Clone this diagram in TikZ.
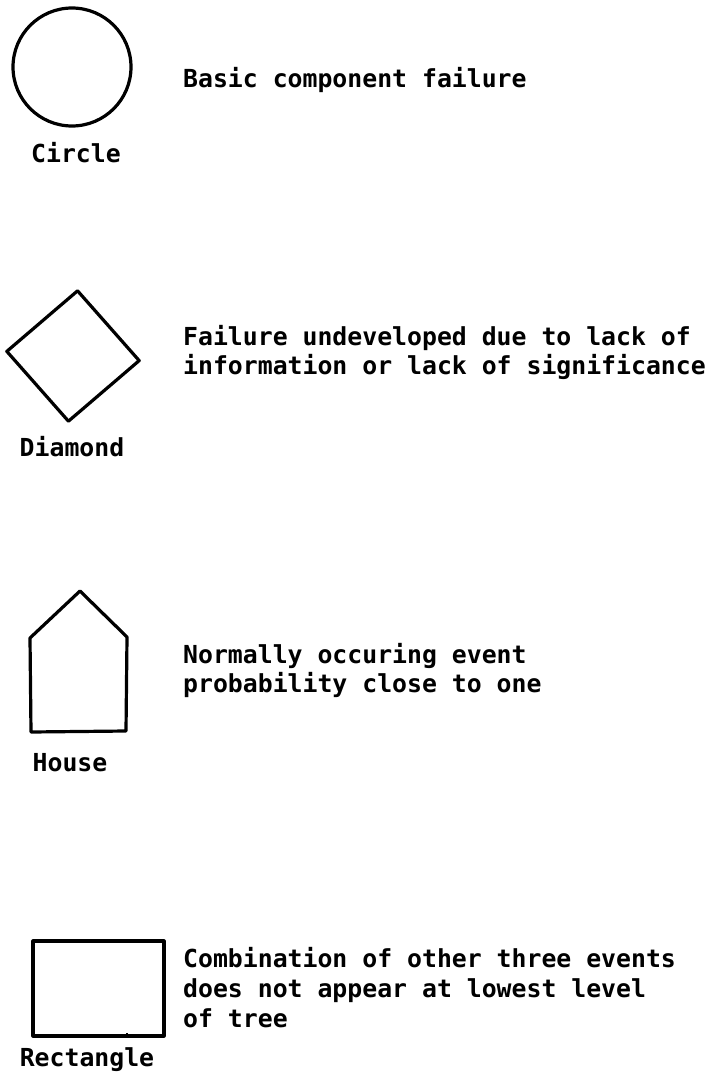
\documentclass[tikz,border=0pt]{standalone}
\usepackage{fontspec}
\usepackage{xcolor}
\usepackage{tikz}
\usetikzlibrary{positioning,shapes.geometric}
\newfontfamily\typefont{DejaVu Sans Mono}
\definecolor{inkc}{HTML}{000000}
\tikzset{
  sym/.style={draw=inkc,line width=3.2pt,line join=round,inner sep=0pt},
  nm/.style={anchor=base,inner sep=0pt,text=inkc,font=\typefont\bfseries\fontsize{24.8}{29.8}\selectfont},
  ds/.style={anchor=base west,inner sep=0pt,text=inkc,text width=540pt,align=left,
    font=\typefont\bfseries\fontsize{24.8}{29.8}\selectfont,
    execute at begin node={\spaceskip=14.93pt\relax}}
}

\begin{document}
\begin{tikzpicture}[x=1pt,y=-1pt]
\useasboundingbox (0,0) rectangle (721,1073);
% circle
\node[sym,circle,minimum size=118pt] (circ) at (72,67) {};
\node[nm] (circlbl) at (76,162) {Circle};
\node[ds] (circtxt) at (183,88) {Basic component failure};
% diamond
\node[sym,diamond,minimum width=134pt,minimum height=132pt,rotate=-4] (diam) at (73,356) {};
\node[nm] (diamlbl) at (72,456) {Diamond};
\node[ds] (diamtxt) at (183,345) {Failure undeveloped due to lack of\\information or lack of significance};
% house
\draw[sym] (80,591) -- (127,637) -- (126,731) -- (31,732) -- (30,638) -- cycle;
\node[nm] (houslbl) at (70,771) {House};
\node[ds] (houstxt) at (183,663) {Normally occuring event\\probability close to one};
% rectangle
\node[sym,rectangle,minimum width=131pt,minimum height=95pt] (rect) at (98.5,988.5) {};
\draw[inkc,line width=2pt] (rect.south) ++(28.5,0) -- ++(0,-5);
\node[nm] (rectlbl) at (87,1066) {Rectangle};
\node[ds] (recttxt) at (183,967.5) {Combination of other three events\\does not appear at lowest level\\of tree};
\end{tikzpicture}
\end{document}
